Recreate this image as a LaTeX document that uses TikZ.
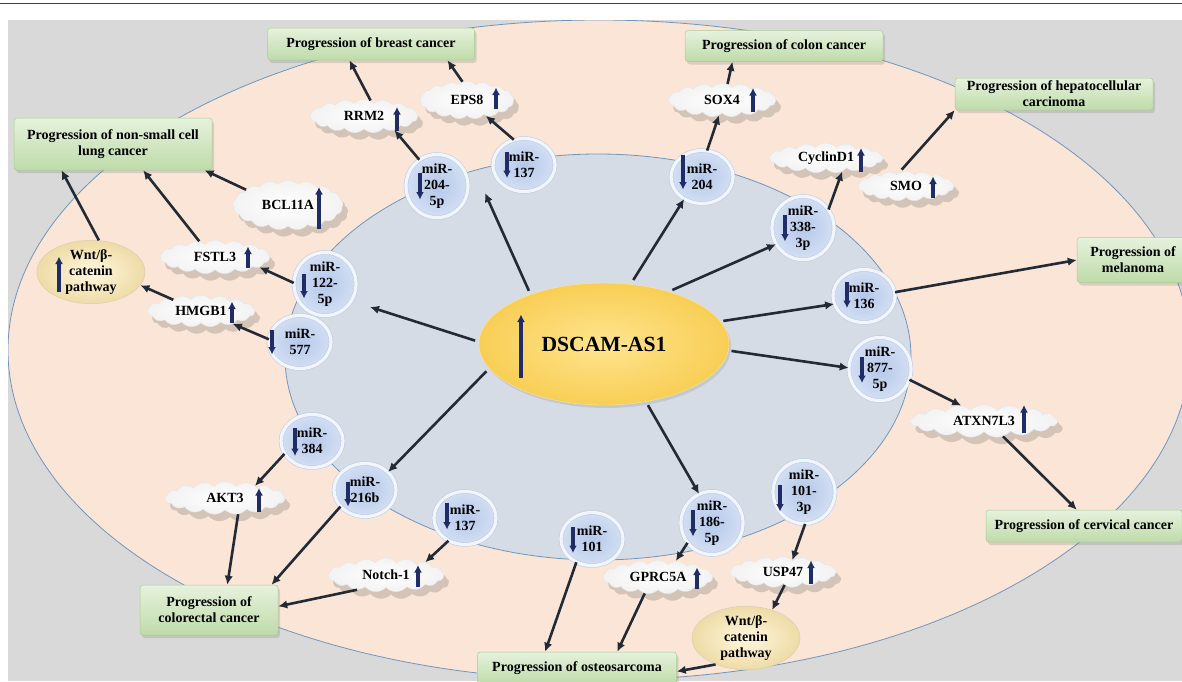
\documentclass[tikz,border=0pt]{standalone}
\usepackage{fontspec}
\setmainfont{Liberation Serif}
\usetikzlibrary{arrows.meta, shapes.geometric, shapes.symbols, shadows}

\definecolor{bggray}{HTML}{D9D9D9}
\definecolor{peach}{HTML}{FBE5D6}
\definecolor{cellblue}{HTML}{D6DCE5}
\definecolor{rimblue}{HTML}{7096BE}
\definecolor{linkcol}{HTML}{222A35}
\definecolor{navy}{HTML}{1F2C66}
\definecolor{boxtop}{HTML}{E6F2DD}
\definecolor{boxbot}{HTML}{BEDBA9}
\definecolor{boxrim}{HTML}{A9CD93}
\definecolor{mirin}{HTML}{B5C8EA}
\definecolor{mirout}{HTML}{D3DFF3}
\definecolor{mirrim}{HTML}{BCCDE6}
\definecolor{mirring}{HTML}{F2F6FC}
\definecolor{lncin}{HTML}{FFE58F}
\definecolor{lncout}{HTML}{F8CE55}
\definecolor{wntin}{HTML}{FFF7DF}
\definecolor{wntout}{HTML}{EEDBA6}

\newcommand{\upmark}[4]{\draw[ind] (#1.center) ++(#2,#3+#4/2) -- ++(0,-#4);}
\newcommand{\downmark}[4]{\draw[ind] (#1.center) ++(#2,#3-#4/2) -- ++(0,#4);}

\begin{document}
\begin{tikzpicture}[x=1pt, y=-1pt,
  txt/.style={font=\bfseries\fontsize{14}{16}\selectfont, align=center},
  link/.style={draw=linkcol, line width=2.6pt, -{Latex[length=9pt,width=8.5pt]}},
  ind/.style={draw=navy, line width=3.2pt, -{Latex[length=7.5pt,width=8pt]}},
  outcome/.style={txt, rectangle, rounded corners=3pt, inner sep=0pt, top color=boxtop, bottom color=boxbot, draw=boxrim, line width=0.5pt, drop shadow={shadow xshift=2pt, shadow yshift=-3pt, opacity=0.25}},
  gene/.style={txt, cloud, cloud puffs=17, cloud puff arc=95, cloud ignores aspect, minimum width=108pt, minimum height=34pt, inner sep=0pt, inner color=white, outer color=black!5, draw=black!10, drop shadow={shadow xshift=5pt, shadow yshift=-7pt, opacity=0.22, fill=black!70}},
  mir/.style={txt, ellipse, minimum width=62pt, minimum height=53pt, inner sep=0pt, inner color=mirin, outer color=mirout, draw=mirrim, line width=0.6pt, double=mirring, double distance=3.2pt},
  lnc/.style={ellipse, minimum width=250pt, minimum height=122pt, inner color=lncin, outer color=lncout, draw=lncin, font=\bfseries\fontsize{21.6}{24}\selectfont, drop shadow={shadow xshift=2pt, shadow yshift=-3pt, opacity=0.2}},
  wnt/.style={txt, ellipse, minimum width=108pt, minimum height=54pt, inner sep=0pt, inner color=wntin, outer color=wntout, draw=wntout!80!black!60, line width=0.5pt}]
\useasboundingbox (0,0) rectangle (1182,681);
\fill[white] (0,0) rectangle (1182,681);
\draw[line width=1pt, black!75] (0,3) -- (1182,3);
\begin{scope}
\clip (8,20) rectangle (1182,681);
\fill[bggray] (8,20) rectangle (1182,681);
\filldraw[fill=peach, draw=rimblue, line width=0.8pt] (599,350) ellipse [x radius=591, y radius=330];
\filldraw[fill=cellblue, draw=rimblue, line width=0.8pt] (598,357) ellipse [x radius=313, y radius=203];
\end{scope}

\node[outcome, minimum width=207pt, minimum height=32pt] (breast) at (371,44) {Progression of breast cancer};
\node[outcome, minimum width=198pt, minimum height=31pt] (colon) at (784,46) {Progression of colon cancer};
\node[outcome, minimum width=198pt, minimum height=32pt] (hcc) at (1054,94) {Progression of hepatocellular\\carcinoma};
\node[outcome, minimum width=198pt, minimum height=52pt] (nsclc) at (113,144) {Progression of non-small cell\\lung cancer};
\node[outcome, minimum width=112pt, minimum height=45pt] (melan) at (1133,260) {Progression of\\melanoma};
\node[outcome, minimum width=196pt, minimum height=32pt] (cerv) at (1084,526) {Progression of cervical cancer};
\node[outcome, minimum width=138pt, minimum height=50pt] (crc) at (209,610) {Progression of\\colorectal cancer};
\node[outcome, minimum width=199pt, minimum height=32pt] (osteo) at (577,668) {Progression of osteosarcoma};

\node[gene] (rrm2) at (364,116) {RRM2};
\node[gene, minimum width=94pt, minimum height=38pt] (eps8) at (467,100) {EPS8};
\node[gene] (sox4) at (722,100) {SOX4};
\node[gene, minimum width=114pt, minimum height=30pt] (ccnd1) at (826,158) {CyclinD1};
\node[gene, minimum width=96pt, minimum height=30pt] (smo) at (906,186) {SMO};
\node[gene, minimum width=110pt, minimum height=50pt] (bcl11a) at (288,205) {BCL11A};
\node[gene, minimum width=110pt] (fstl3) at (215,257) {FSTL3};
\node[gene, minimum height=32pt] (hmgb1) at (201,311) {HMGB1};
\node[gene, minimum width=147pt, minimum height=33pt] (atxn) at (984,421) {ATXN7L3};
\node[gene, minimum width=120pt, minimum height=33pt] (akt3) at (225,498) {AKT3};
\node[gene, minimum width=116pt] (notch) at (386,575) {Notch-1};
\node[gene, minimum width=110pt] (gprc) at (658,577) {GPRC5A};
\node[gene, minimum width=106pt, minimum height=31pt] (usp47) at (783,572) {USP47};

\node[wnt] (wntl) at (91,272) {Wnt/β-\\catenin\\pathway};
\node[wnt] (wntb) at (746,638) {Wnt/β-\\catenin\\pathway};

\node[lnc] (dscam) at (604,344) {DSCAM-AS1};

\node[mir] (m2045p) at (437,186) {miR-\\204-\\5p};
\node[mir] (m137a) at (524,165) {miR-\\137};
\node[mir] (m204) at (702,177) {miR-\\204};
\node[mir] (m3383p) at (803,228) {miR-\\338-\\3p};
\node[mir] (m136) at (864,296) {miR-\\136};
\node[mir] (m8775p) at (880,369) {miR-\\877-\\5p};
\node[mir] (m1225p) at (325,284) {miR-\\122-\\5p};
\node[mir] (m577) at (300,342) {miR-\\577};
\node[mir] (m384) at (312,441) {miR-\\384};
\node[mir] (m216b) at (365,490) {miR-\\216b};
\node[mir] (m137b) at (465,518) {miR-\\137};
\node[mir] (m101) at (592,539) {miR-\\101};
\node[mir] (m1865p) at (712,523) {miR-\\186-\\5p};
\node[mir] (m1013p) at (804,492) {miR-\\101-\\3p};

\coordinate (tip137) at (485,193);
\coordinate (tip122) at (370,307);
\draw[link, shorten <=4pt] (dscam.146) -- (tip137);
\draw[link, shorten <=5pt] (dscam.66) -- (m204.231);
\draw[link, shorten <=4pt] (dscam.39) -- (m3383p.211);
\draw[link, shorten <=3pt] (dscam.11) -- (m136.195);
\draw[link, shorten <=3pt] (dscam.-3) -- (m8775p.178);
\draw[link, shorten <=4pt] (dscam.-54) -- (m1865p.114);
\draw[link, shorten <=4pt] (dscam.192) -- (m216b.38);
\draw[link, shorten <=4pt] (dscam.179) -- (tip122);

\draw[link] (m2045p.124) -- (rrm2.-25);
\draw[link] (m137a.112) -- (eps8.-40);
\draw[link] (rrm2.67) -- (breast.217);
\draw[link] (eps8.104) -- (breast.-12);
\draw[link] (m204.79) -- (sox4.259);
\draw[link] (sox4.71) -- (colon.197);
\draw[link] (m3383p.36) -- (ccnd1.-40);
\draw[link, shorten <=6pt] (smo.125) -- (hcc.south west);
\draw[link] (m136.7) -- (melan.west);
\draw[link] (m8775p.-20) -- (atxn.146);
\draw[link] (atxn.-39) -- (cerv.114);
\draw[link] (m1225p.178) -- (fstl3.-13);
\draw[link] (m577.175) -- (hmgb1.-22);
\draw[link] (hmgb1.158) -- (wntl.-15);
\draw[link] (wntl.76) -- (nsclc.207);
\draw[link] (fstl3.135) -- (nsclc.-41);
\draw[link] (bcl11a.160) -- (nsclc.-16);
\draw[link] (m384.205) -- (akt3.22);
\draw[link] (akt3.-51) -- (crc.54);
\draw[link] (m216b.214) -- (crc.22);
\draw[link] (m137b.234) -- (notch.18);
\draw[link] (notch.207) -- (crc.3);
\draw[link] (m101.236) -- (osteo.153);
\draw[link] (gprc.231) -- (osteo.22);
\draw[link] (m1865p.219) -- (gprc.42);
\draw[link] (m1013p.-88) -- (usp47.52);
\draw[link] (usp47.-83) -- (wntb.47);
\draw[link] (wntb.221) -- (osteo.-2);

\upmark{dscam}{-83}{2}{63}
\upmark{wntl}{-32}{2}{35}
\upmark{rrm2}{33}{3}{24}
\upmark{eps8}{29}{-2}{21}
\upmark{sox4}{31}{0}{24}
\upmark{ccnd1}{35}{2}{24}
\upmark{smo}{27}{1}{21}
\upmark{bcl11a}{31}{3}{42}
\upmark{fstl3}{33}{0}{21}
\upmark{hmgb1}{31}{1}{21}
\upmark{atxn}{40}{-2}{28}
\upmark{akt3}{34}{2}{24}
\upmark{notch}{32}{1}{22}
\upmark{gprc}{39}{1}{21}
\upmark{usp47}{28}{0}{23}

\downmark{m2045p}{-17}{0}{27}
\downmark{m137a}{-17}{0}{26}
\downmark{m204}{-19}{-5}{35}
\downmark{m3383p}{-18}{0}{27}
\downmark{m136}{-17}{-1}{26}
\downmark{m8775p}{-18}{1}{26}
\downmark{m1225p}{-21}{2}{25}
\downmark{m577}{-28}{0}{25}
\downmark{m384}{-17}{1}{28}
\downmark{m216b}{-17}{4}{25}
\downmark{m137b}{-18}{-2}{27}
\downmark{m101}{-19}{1}{26}
\downmark{m1865p}{-19}{0}{27}
\downmark{m1013p}{-24}{6}{27}
\end{tikzpicture}
\end{document}
